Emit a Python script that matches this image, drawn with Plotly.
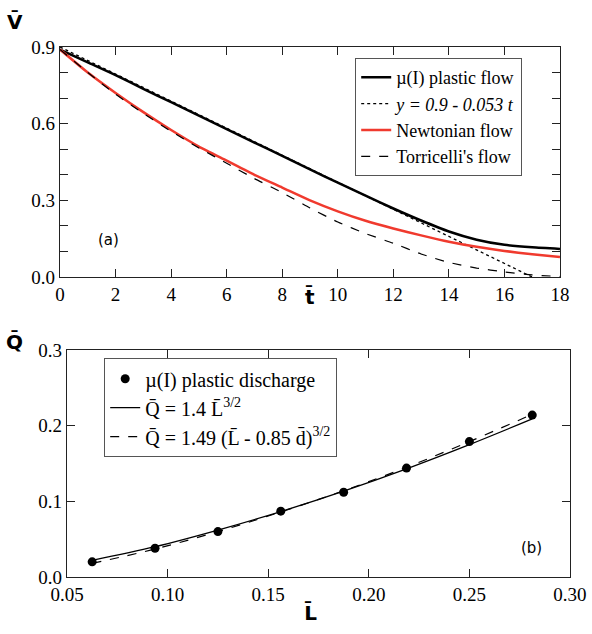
import plotly.graph_objects as go

# ---- panel (a) data ----
t_vals = [0, 1, 2, 3, 4, 5, 6, 7, 8, 9, 10, 11, 12, 13, 14, 15, 16, 17, 18]
v_plastic = [0.89, 0.84, 0.79, 0.736, 0.684, 0.631, 0.579, 0.526, 0.474, 0.421, 0.369, 0.318, 0.268, 0.221, 0.178, 0.146, 0.126, 0.116, 0.11]
t_linear = [0, 17]
v_linear = [0.9, 0.0]
v_newton = [0.89, 0.80, 0.72, 0.645, 0.575, 0.51, 0.455, 0.40, 0.35, 0.30, 0.257, 0.22, 0.19, 0.163, 0.138, 0.118, 0.102, 0.089, 0.078]
v_torricelli = [0.89, 0.80, 0.715, 0.64, 0.57, 0.505, 0.445, 0.385, 0.33, 0.27, 0.215, 0.17, 0.132, 0.09, 0.057, 0.035, 0.02, 0.008, 0.002]

# ---- panel (b) data ----
L_vals = [0.0625, 0.09375, 0.125, 0.15625, 0.1875, 0.21875, 0.25, 0.28125]
Q_points = [0.020, 0.038, 0.060, 0.087, 0.112, 0.144, 0.179, 0.214]
Q_fit1 = [0.022, 0.040, 0.062, 0.0865, 0.1135, 0.143, 0.175, 0.209]
Q_fit2 = [0.018, 0.037, 0.060, 0.086, 0.114, 0.145, 0.179, 0.215]

# ---- ticks ----
ya_tickvals = [0.0, 0.3, 0.6, 0.9]
ya_ticktext = ["0.0", "0.3", "0.6", "0.9"]
xa_tickvals = [0, 2, 4, 6, 8, 10, 12, 14, 16, 18]
xa_ticktext = ["0", "2", "4", "6", "8", "10", "12", "14", "16", "18"]
xb_tickvals = [0.05, 0.10, 0.15, 0.20, 0.25, 0.30]
xb_ticktext = ["0.05", "0.10", "0.15", "0.20", "0.25", "0.30"]
yb_tickvals = [0.0, 0.1, 0.2, 0.3]
yb_ticktext = ["0.0", "0.1", "0.2", "0.3"]

SERIF = "Liberation Serif, Times New Roman, serif"
SANS = "DejaVu Sans"


def axis_style(**kw):
    d = dict(showline=True, linecolor="#222", linewidth=1.3, mirror="ticks",
             ticks="inside", ticklen=8, tickcolor="#222", tickwidth=1,
             showgrid=False, zeroline=False, automargin=False, tickmode="array",
             tickfont=dict(family=SERIF, size=19, color="black"))
    d.update(kw)
    return d


fig = go.Figure()

fig.add_trace(go.Scatter(x=t_vals, y=v_plastic, mode="lines", name="µ(I) plastic flow",
                         line=dict(color="black", width=2.5, shape="spline", smoothing=0.6),
                         xaxis="x", yaxis="y", legend="legend"))
fig.add_trace(go.Scatter(x=t_linear, y=v_linear, mode="lines", name="<i>y = 0.9 - 0.053 t</i>",
                         line=dict(color="black", width=1.3, dash="dot"),
                         xaxis="x", yaxis="y", legend="legend"))
fig.add_trace(go.Scatter(x=t_vals, y=v_newton, mode="lines", name="Newtonian flow",
                         line=dict(color="#f03a2e", width=2.5, shape="spline", smoothing=0.6),
                         xaxis="x", yaxis="y", legend="legend"))
fig.add_trace(go.Scatter(x=t_vals, y=v_torricelli, mode="lines", name="Torricelli's flow",
                         line=dict(color="black", width=1.2, dash="dash", shape="spline", smoothing=0.6),
                         xaxis="x", yaxis="y", legend="legend"))

fig.add_trace(go.Scatter(x=L_vals, y=Q_points, mode="markers", name="µ(I) plastic discharge",
                         marker=dict(color="black", size=9),
                         xaxis="x2", yaxis="y2", legend="legend2"))
fig.add_trace(go.Scatter(x=L_vals, y=Q_fit1, mode="lines", name="Q\u0304 = 1.4 L\u0304<sup>3/2</sup>",
                         line=dict(color="black", width=1.3, shape="spline"),
                         xaxis="x2", yaxis="y2", legend="legend2"))
fig.add_trace(go.Scatter(x=L_vals, y=Q_fit2, mode="lines", name="Q\u0304 = 1.49 (L\u0304 - 0.85 d\u0304)<sup>3/2</sup>",
                         line=dict(color="black", width=1.2, dash="dash", shape="spline"),
                         xaxis="x2", yaxis="y2", legend="legend2"))

fig.update_layout(
    width=592, height=634,
    margin=dict(l=0, r=0, t=0, b=0, autoexpand=False),
    paper_bgcolor="white", plot_bgcolor="white",
    font=dict(family=SERIF, size=19, color="black"),
    showlegend=True,
    xaxis=axis_style(domain=[0.1014, 0.9459], range=[0, 18], tickvals=xa_tickvals,
                     ticktext=xa_ticktext, anchor="y"),
    yaxis=axis_style(domain=[0.5631, 0.9259], range=[0, 0.9], tickvals=ya_tickvals,
                     ticktext=ya_ticktext, anchor="x",
                     minor=dict(dtick=0.1, tick0=0, ticks="inside", ticklen=8, tickcolor="#222")),
    xaxis2=axis_style(domain=[0.1132, 0.9628], range=[0.05, 0.30], tickvals=xb_tickvals,
                      ticktext=xb_ticktext, anchor="y2"),
    yaxis2=axis_style(domain=[0.0899, 0.4479], range=[0, 0.3], tickvals=yb_tickvals,
                      ticktext=yb_ticktext, anchor="x2"),
    legend=dict(x=0.600, y=0.9085, xanchor="left", yanchor="top",
                bgcolor="white", bordercolor="#555", borderwidth=1,
                font=dict(family=SERIF, size=18, color="black"),
                tracegroupgap=0, itemwidth=30),
    legend2=dict(x=0.176, y=0.435, xanchor="left", yanchor="top",
                 bgcolor="white", bordercolor="#555", borderwidth=1,
                 font=dict(family=SERIF, size=20, color="black"),
                 tracegroupgap=0, itemwidth=30),
    annotations=[
        dict(text="<b>V\u0304</b>", x=0.0253, y=0.9653, xref="paper", yref="paper", showarrow=False,
             xanchor="center", yanchor="middle", font=dict(family=SANS, size=20, color="black")),
        dict(text="<b>t\u0304</b>", x=0.5236, y=0.5315, xref="paper", yref="paper", showarrow=False,
             xanchor="center", yanchor="middle", font=dict(family=SANS, size=20, color="black")),
        dict(text="<b>Q\u0304</b>", x=0.0253, y=0.4606, xref="paper", yref="paper", showarrow=False,
             xanchor="center", yanchor="middle", font=dict(family=SANS, size=20, color="black")),
        dict(text="<b>L\u0304</b>", x=0.525, y=0.0331, xref="paper", yref="paper", showarrow=False,
             xanchor="center", yanchor="middle", font=dict(family=SANS, size=20, color="black")),
        dict(text="(a)", x=1.75, y=0.145, xref="x", yref="y", showarrow=False,
             font=dict(family=SANS, size=15, color="black")),
        dict(text="(b)", x=0.281, y=0.039, xref="x2", yref="y2", showarrow=False,
             font=dict(family=SANS, size=15, color="black")),
    ],
)

fig.write_html("out.html", config={"displayModeBar": False},
               post_script="document.body.style.margin='0px';document.body.style.overflow='hidden';")
